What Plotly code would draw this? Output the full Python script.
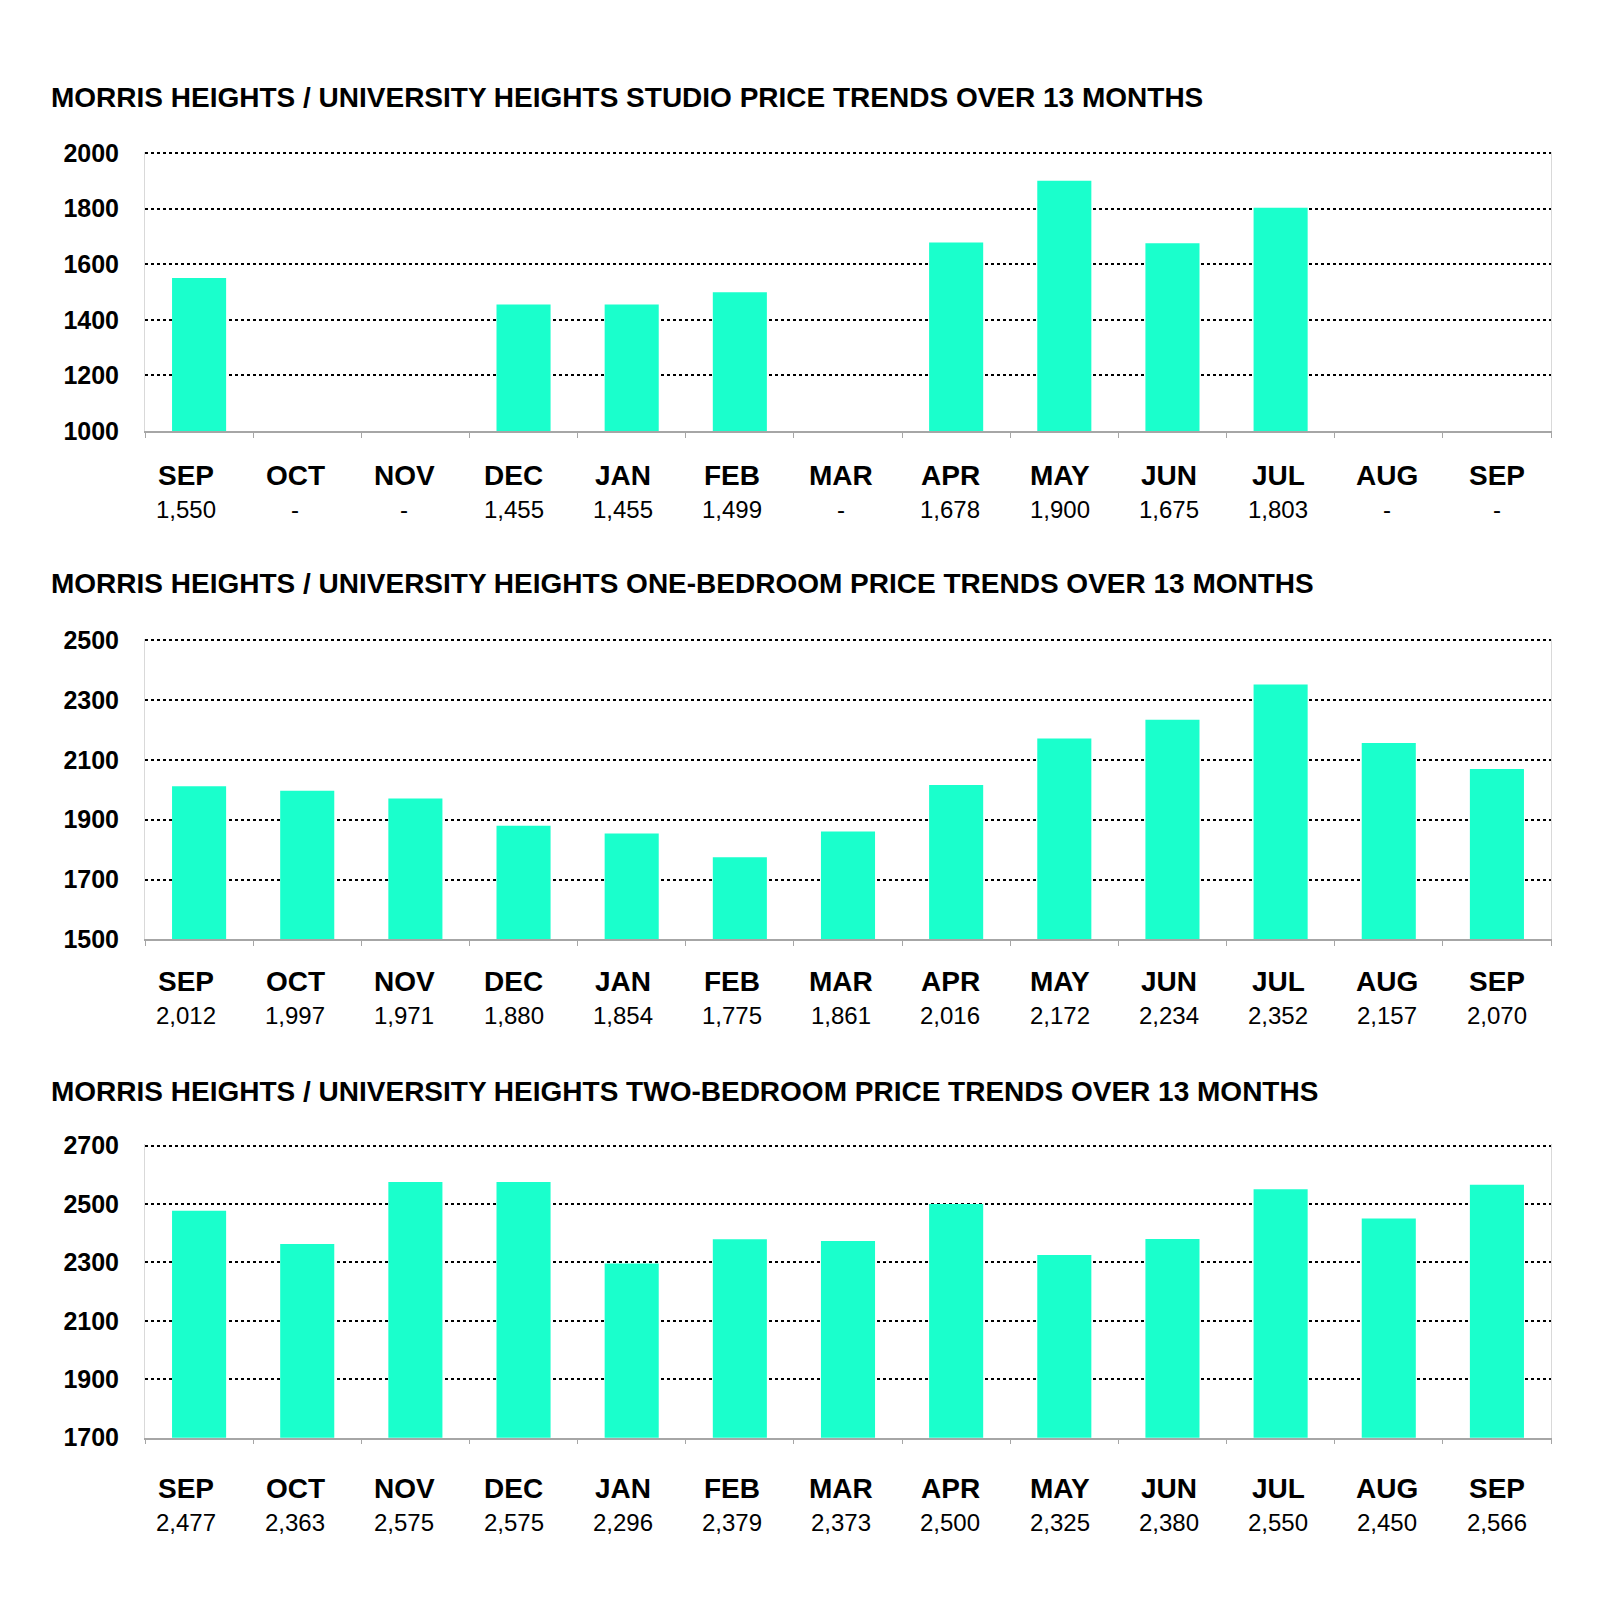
import plotly.graph_objects as go

months = ["SEP", "OCT", "NOV", "DEC", "JAN", "FEB", "MAR", "APR", "MAY", "JUN", "JUL", "AUG", "SEP"]

studio = [1550, None, None, 1455, 1455, 1499, None, 1678, 1900, 1675, 1803, None, None]
one_bed = [2012, 1997, 1971, 1880, 1854, 1775, 1861, 2016, 2172, 2234, 2352, 2157, 2070]
two_bed = [2477, 2363, 2575, 2575, 2296, 2379, 2373, 2500, 2325, 2380, 2550, 2450, 2566]

titles = [
    "MORRIS HEIGHTS / UNIVERSITY HEIGHTS STUDIO PRICE TRENDS OVER 13 MONTHS",
    "MORRIS HEIGHTS / UNIVERSITY HEIGHTS ONE-BEDROOM PRICE TRENDS OVER 13 MONTHS",
    "MORRIS HEIGHTS / UNIVERSITY HEIGHTS TWO-BEDROOM PRICE TRENDS OVER 13 MONTHS",
]
y_ranges = [(1000, 2000), (1500, 2500), (1700, 2700)]

W, H = 1600, 1615
OX = 8  # page offset of the plot div
BAR = "#1AFFCC"
FONT = "Liberation Sans, Arial, sans-serif"

# target pixel layout of each panel on the page: (top, bottom, title y)
panels = [(152, 432, 98), (640, 941, 585), (1146, 1440, 1093)]
# vertical offsets of month / value labels under the axis
label_shift = [(44, 78), (42, 76), (50.5, 84.5)]
x_left, x_right = 145, 1551


def px(x):
    return (x - OX) / W


def py(y):
    # measured page mapping: page_y ~ 0.9847 * fig_y + 21.3
    fy = (y - 21.3) / 0.9847
    return 1 - fy / H


fig = go.Figure()
series = [studio, one_bed, two_bed]
xs = list(range(len(months)))

for i, (vals, (top, bot, ty), title, yr) in enumerate(zip(series, panels, titles, y_ranges)):
    n = "" if i == 0 else str(i + 1)
    fig.add_trace(go.Bar(
        x=xs, y=vals, marker=dict(color=BAR, line=dict(width=0)),
        width=0.5, xaxis="x" + n, yaxis="y" + n, showlegend=False,
    ))
    fig.layout["xaxis" + n] = dict(
        domain=[px(x_left), px(x_right)], anchor="y" + n,
        range=[-0.5, len(months) - 0.5],
        tickvals=[k - 0.5 for k in range(len(months) + 1)],
        ticktext=[""] * (len(months) + 1),
        ticks="outside", ticklen=5, tickcolor="#a6a6a6", tickwidth=1,
        showline=True, linecolor="#a6a6a6", linewidth=1.5,
        showgrid=False, zeroline=False, fixedrange=True,
    )
    fig.layout["yaxis" + n] = dict(
        domain=[py(bot), py(top)], anchor="x" + n,
        range=[yr[0], yr[1] + 5], tick0=yr[0], dtick=200,
        showgrid=True, gridcolor="#000000", griddash="dot", gridwidth=1.5,
        showline=True, linecolor="#d9d9d9", linewidth=1, mirror=True,
        zeroline=False, ticks="", ticklabelstandoff=20,
        tickfont=dict(family=FONT, size=25, color="#000000", weight="bold"),
        fixedrange=True,
    )
    fig.add_annotation(
        text="<b>" + title + "</b>", x=px(49), y=py(ty), xref="paper", yref="paper",
        xanchor="left", yanchor="middle", showarrow=False,
        font=dict(family=FONT, size=28, color="#000000"),
    )
    m_shift, v_shift = label_shift[i]
    for k, m in enumerate(months):
        v = vals[k]
        lab = "-" if v is None else f"{v:,}"
        # labels sit on a slightly wider spacing than the bars
        dx = -13.3 + 1.09 * k
        fig.add_annotation(
            text="<b>" + m + "</b>", x=k, y=0, xref="x" + n, yref="y" + n + " domain",
            yanchor="middle", yshift=-m_shift, xshift=dx, showarrow=False,
            font=dict(family=FONT, size=28, color="#000000"),
        )
        fig.add_annotation(
            text=lab, x=k, y=0, xref="x" + n, yref="y" + n + " domain",
            yanchor="middle", yshift=-v_shift, xshift=dx, showarrow=False,
            font=dict(family=FONT, size=24, color="#000000"),
        )

fig.update_layout(
    width=W, height=H,
    margin=dict(l=0, r=0, t=0, b=0),
    paper_bgcolor="white", plot_bgcolor="white",
    bargap=0.5,
)

fig.write_html("out.html")
